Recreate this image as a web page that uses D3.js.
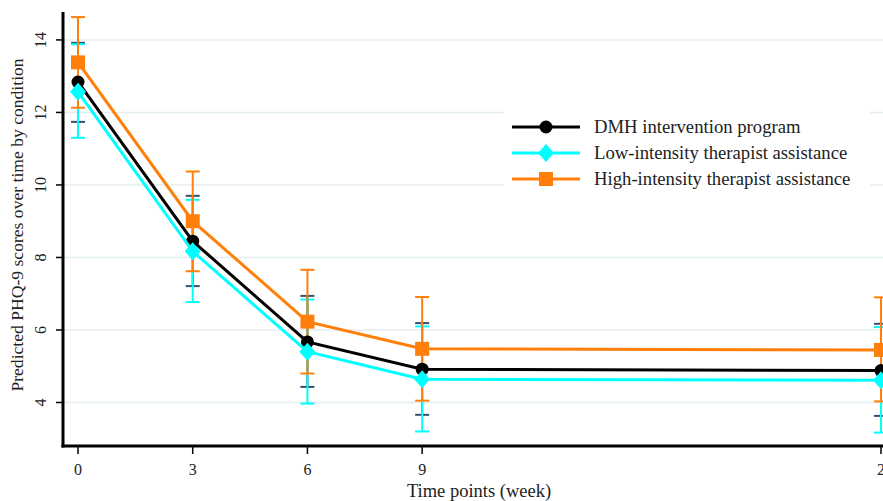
<html>
<head>
  <title>PHQ-9 by condition</title>
  <script src='https://d3js.org/d3.v7.min.js'></script>
  <style>
    body { margin: 0; background: #fff; overflow: hidden; }
    text { font-family: 'Liberation Serif', 'Times New Roman', serif; fill: #222; }
  </style>
</head>
<body>
  <script>

var weeks = [0, 3, 6, 9, 21];
var xTicks = [0, 3, 6, 9, 21];
var yTicks = [4, 6, 8, 10, 12, 14];

var names = ['DMH intervention program', 'Low-intensity therapist assistance', 'High-intensity therapist assistance'];

var dmhMean = [12.84, 8.45, 5.67, 4.92, 4.88];
var dmhLow  = [11.74, 7.21, 4.43, 3.66, 3.63];
var dmhHigh = [13.92, 9.70, 6.94, 6.19, 6.17];

var lowMean = [12.57, 8.17, 5.40, 4.64, 4.61];
var lowLow  = [11.30, 6.77, 3.97, 3.20, 3.17];
var lowHigh = [13.88, 9.59, 6.84, 6.10, 6.08];

var highMean = [13.38, 9.00, 6.23, 5.48, 5.45];
var highLow  = [12.13, 7.62, 4.80, 4.05, 4.03];
var highHigh = [14.63, 10.37, 7.66, 6.91, 6.90];

var width = 883,
    height = 501;

var svg = d3.select('body')
  .append('svg')
  .attr('width', width)
  .attr('height', height);

var x = d3.scaleLinear().domain([0, 21]).range([78, 881]);
var y = d3.scaleLinear().domain([2.8, 14.77]).range([446, 12]);

var axisX = 63;

// gridlines
svg.append('g').selectAll('line')
  .data(yTicks)
  .enter()
  .append('line')
  .attr('x1', axisX).attr('x2', width)
  .attr('y1', function(d){ return y(d); })
  .attr('y2', function(d){ return y(d); })
  .attr('stroke', '#e4edf1')
  .attr('stroke-width', 1.5);

var series = [
  {name: names[0], mean: dmhMean, lo: dmhLow, hi: dmhHigh, color: '#000000', bar: '#34506e', shape: 'circle'},
  {name: names[1], mean: lowMean, lo: lowLow, hi: lowHigh, color: '#00ffff', bar: '#00ffff', shape: 'diamond'},
  {name: names[2], mean: highMean, lo: highLow, hi: highHigh, color: '#ff7f0a', bar: '#ff7f0a', shape: 'square'}
];

function marker(sel, shape, color) {
  if (shape == 'circle') {
    sel.append('circle').attr('r', 6.5).attr('fill', color);
  } else if (shape == 'diamond') {
    sel.append('path').attr('d', 'M0,-9L8,0L0,9L-8,0Z').attr('fill', color);
  } else {
    sel.append('rect').attr('x', -7).attr('y', -7).attr('width', 14).attr('height', 14).attr('fill', color);
  }
}

// error bars
series.forEach(function(s){
  var g = svg.append('g');
  weeks.forEach(function(w, i){
    var cx = x(w);
    g.append('line')
      .attr('x1', cx).attr('x2', cx)
      .attr('y1', y(s.lo[i])).attr('y2', y(s.hi[i]))
      .attr('stroke', s.bar).attr('stroke-width', 2);
    [s.lo[i], s.hi[i]].forEach(function(v){
      g.append('line')
        .attr('x1', cx - 7).attr('x2', cx + 7)
        .attr('y1', y(v)).attr('y2', y(v))
        .attr('stroke', s.bar).attr('stroke-width', 2);
    });
  });
});

// lines and markers
var line = d3.line()
  .x(function(d, i){ return x(weeks[i]); })
  .y(function(d){ return y(d); });

series.forEach(function(s){
  svg.append('path')
    .datum(s.mean)
    .attr('d', line)
    .attr('fill', 'none')
    .attr('stroke', s.color)
    .attr('stroke-width', 3);
  s.mean.forEach(function(v, i){
    var m = svg.append('g').attr('transform', 'translate(' + x(weeks[i]) + ',' + y(v) + ')');
    marker(m, s.shape, s.color);
  });
});

// axes
svg.append('line')
  .attr('x1', axisX).attr('x2', axisX)
  .attr('y1', 12).attr('y2', 447.5)
  .attr('stroke', '#000').attr('stroke-width', 3);
svg.append('line')
  .attr('x1', axisX - 1.5).attr('x2', width)
  .attr('y1', 446).attr('y2', 446)
  .attr('stroke', '#000').attr('stroke-width', 3);

var yt = svg.append('g').selectAll('g')
  .data(yTicks)
  .enter()
  .append('g');
yt.append('line')
  .attr('x1', axisX - 7).attr('x2', axisX)
  .attr('y1', function(d){ return y(d); })
  .attr('y2', function(d){ return y(d); })
  .attr('stroke', '#000').attr('stroke-width', 1.5);
yt.append('text')
  .attr('transform', function(d){ return 'translate(46,' + y(d) + ') rotate(-90)'; })
  .attr('text-anchor', 'middle')
  .style('font-size', '16px')
  .text(function(d){ return d; });

var xt = svg.append('g').selectAll('g')
  .data(xTicks)
  .enter()
  .append('g');
xt.append('line')
  .attr('x1', function(d){ return x(d); })
  .attr('x2', function(d){ return x(d); })
  .attr('y1', 446).attr('y2', 454)
  .attr('stroke', '#000').attr('stroke-width', 1.5);
xt.append('text')
  .attr('x', function(d){ return x(d) + (d == 21 ? 4 : 0); })
  .attr('y', 475)
  .attr('text-anchor', 'middle')
  .style('font-size', '16px')
  .text(function(d){ return d; });

svg.append('text')
  .attr('x', 479).attr('y', 497)
  .attr('text-anchor', 'middle')
  .style('font-size', '18.5px')
  .text('Time points (week)');

svg.append('text')
  .attr('transform', 'translate(23,225) rotate(-90)')
  .attr('text-anchor', 'middle')
  .style('font-size', '17.6px')
  .text('Predicted PHQ-9 scores over time by condition');

// legend
var legend = svg.append('g');
legend.append('rect')
  .attr('x', 504).attr('y', 110)
  .attr('width', 366).attr('height', 84)
  .attr('fill', '#fff');
series.forEach(function(s, i){
  var ly = 127 + i * 26;
  legend.append('line')
    .attr('x1', 512).attr('x2', 580)
    .attr('y1', ly).attr('y2', ly)
    .attr('stroke', s.color).attr('stroke-width', 3);
  var m = legend.append('g').attr('transform', 'translate(546,' + ly + ')');
  marker(m, s.shape, s.color);
  legend.append('text')
    .attr('x', 594).attr('y', ly + 6)
    .style('font-size', '18.7px')
    .text(s.name);
});

  </script>
</body>
</html>
